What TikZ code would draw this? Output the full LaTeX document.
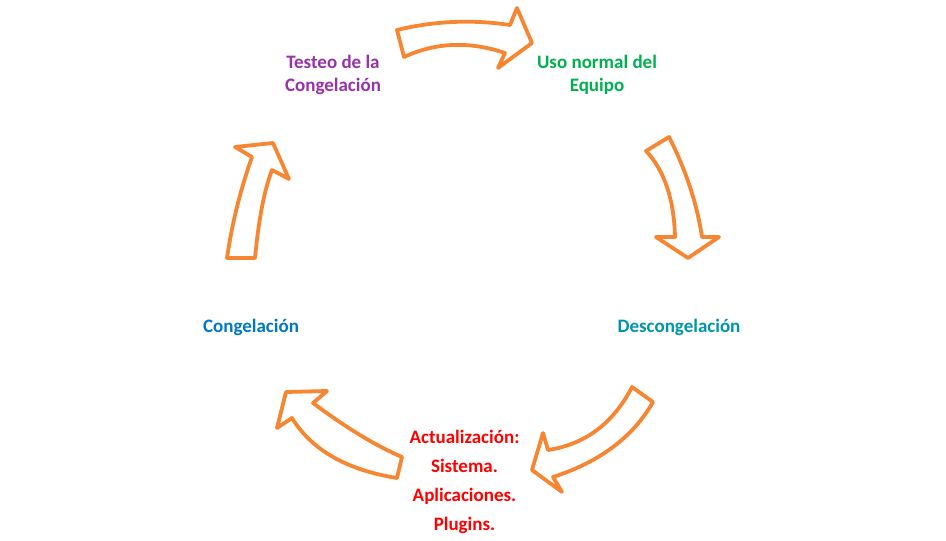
\documentclass[tikz,border=0pt]{standalone}
\usepackage{fontspec}
\setmainfont{Carlito}
\usepackage{tikz}
\usetikzlibrary{arrows,shapes}
\definecolor{naranja}{RGB}{247,134,50}
\definecolor{morado}{RGB}{150,50,170}
\definecolor{verde}{RGB}{0,176,80}
\definecolor{turquesa}{RGB}{0,150,170}
\definecolor{azul}{RGB}{0,120,200}
\definecolor{rojo}{RGB}{255,0,0}

\begin{document}
\begin{tikzpicture}[x=1pt, y=-1pt, flecha/.style={draw=naranja,line width=3.8pt,fill=white,line join=round},
		etiqueta/.style={font=\fontsize{19}{23}\selectfont\bfseries,align=center}]
					\useasboundingbox (0,0) rectangle (946,541);
					% First we place the labels of the cycle
					\foreach \pos/\name/\col/\texto in {{(333,74.5)/testeo/morado/{Testeo de la\\Congelación}},
							    {(597,74.5)/uso/verde/{Uso normal del\\Equipo}},
							    {(679,327)/descong/turquesa/{Descongelación}},
							    {(251,327)/cong/azul/{Congelación}}}
						\node[etiqueta,text=\col] (\name) at \pos {\texto};
					\node[etiqueta,text=rojo,font=\fontsize{19}{29}\selectfont\bfseries] (actual) at (464.5,482)
						{Actualización:\\Sistema.\\Aplicaciones.\\Plugins.};
					% Then the block arrows between them
					% testeo -> uso
					\path[flecha] (397,30) .. controls (434,21) and (471.7,19.3) .. (510,25) -- (517,8) -- (532,43)
						-- (498,68) -- (505,53) .. controls (469.3,41) and (435.7,42.3) .. (404,57) -- cycle;
					% uso -> descong
					\path[flecha] (646,151) -- (669,137) .. controls (686,170.3) and (697,203.7) .. (702,237) -- (719,237)
						-- (688,258) -- (656,237) -- (675,237) .. controls (674,199) and (664.3,170.3) .. (646,151) -- cycle;
					% descong -> actual
					\path[flecha] (632,387) -- (653,402) .. controls (633,437) and (599.7,462) .. (553,477) -- (562,492)
						-- (532,470) -- (543,433) -- (548,450) .. controls (585.3,444.3) and (613.3,423.3) .. (632,387) -- cycle;
					% actual -> cong
					\path[flecha] (397,478) -- (402,457) .. controls (375.7,445.7) and (346,427.7) .. (313,403) -- (327,391)
						-- (286,392) -- (277,428) -- (292,418) .. controls (311.7,450) and (346.7,470) .. (397,478) -- cycle;
					% cong -> testeo
					\path[flecha] (227,258) -- (255,258) .. controls (258.7,219.3) and (264.3,190) .. (272,170) -- (289,179)
						-- (273,143) -- (235,147) -- (252,157) .. controls (240.3,190) and (232,223.7) .. (227,258) -- cycle;
				\end{tikzpicture}
\end{document}
